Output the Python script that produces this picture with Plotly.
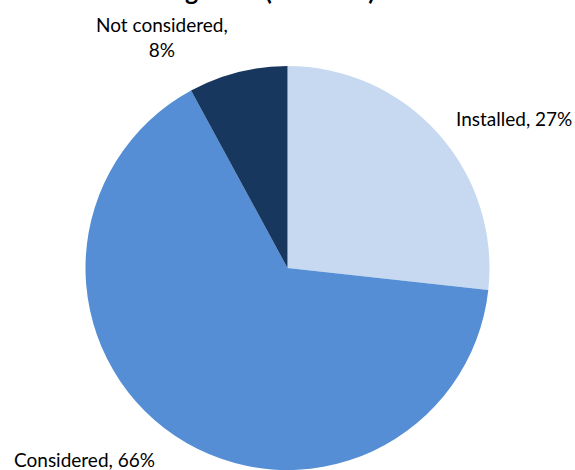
import plotly.graph_objects as go

categories = ["Installed", "Considered", "Not considered"]
values = [27, 66, 8]
colors = ["#C6D9F1", "#558ED5", "#17375E"]
title_text = "Heating units (2013-14)"

W, H = 575, 470

fig = go.Figure(go.Pie(
    labels=categories,
    values=values,
    sort=False,
    direction="clockwise",
    rotation=0,
    marker=dict(colors=colors, line=dict(width=0)),
    textinfo="none",
    hoverinfo="label+percent",
    domain=dict(x=[0, 1], y=[0, (H - 66) / H]),
    showlegend=False,
))

def px(x, y):
    return x / W, 1 - y / H

label_font = dict(family="Lato, Carlito, Calibri, sans-serif", size=19, color="#000000")
label_pos = {
    "Installed": dict(x=454, y=118, xanchor="left", text="{c}, {v}%"),
    "Considered": dict(x=12, y=459, xanchor="left", text="{c}, {v}%"),
    "Not considered": dict(x=162, y=37, xanchor="center", text="{c},<br>{v}%"),
}
annotations = []
for c, v in zip(categories, values):
    p = label_pos[c]
    ax, ay = px(p["x"], p["y"])
    annotations.append(dict(
        x=ax, y=ay, xref="paper", yref="paper",
        xanchor=p["xanchor"], yanchor="middle",
        text=p["text"].format(c=c, v=v),
        showarrow=False, font=label_font, align="center",
    ))

tx, ty = px(108, 6.5)
annotations.append(dict(
    x=tx, y=ty, xref="paper", yref="paper", xanchor="left", yanchor="bottom",
    text="<b>" + title_text + "</b>", showarrow=False,
    font=dict(family="Lato, Carlito, Calibri, sans-serif", size=25, color="#000000"),
))

fig.update_layout(
    width=W, height=H,
    margin=dict(l=0, r=0, t=0, b=0),
    paper_bgcolor="#FFFFFF",
    plot_bgcolor="#FFFFFF",
    annotations=annotations,
)

fig.write_html(
    "out.html",
    config={"displayModeBar": False},
    post_script="document.body.style.margin='0';document.body.style.overflow='hidden';",
)
